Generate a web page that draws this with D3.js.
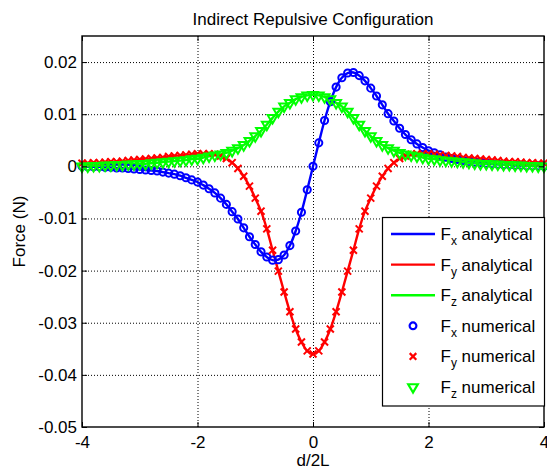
<!DOCTYPE html>
<html><head><meta charset="utf-8">
<script src="https://cdn.jsdelivr.net/npm/d3@7"></script>
<style>
body{margin:0;background:#fff}
svg{display:block}
text{font-family:"Liberation Sans",Arial,Helvetica,sans-serif;fill:#000}
</style>
</head><body>
<svg id="chart" width="547" height="473"></svg>
<script>
// ---- data ----
const xs = [-4,-3.9,-3.8,-3.7,-3.6,-3.5,-3.4,-3.3,-3.2,-3.1,
 -3,-2.9,-2.8,-2.7,-2.6,-2.5,-2.4,-2.3,-2.2,-2.1,
 -2,-1.9,-1.8,-1.7,-1.6,-1.5,-1.4,-1.3,-1.2,-1.1,
 -1,-0.9,-0.8,-0.7,-0.6,-0.5,-0.4,-0.3,-0.2,-0.1,
 0,
 0.1,0.2,0.3,0.4,0.5,0.6,0.7,0.8,0.9,1,
 1.1,1.2,1.3,1.4,1.5,1.6,1.7,1.8,1.9,2,
 2.1,2.2,2.3,2.4,2.5,2.6,2.7,2.8,2.9,3,
 3.1,3.2,3.3,3.4,3.5,3.6,3.7,3.8,3.9,4];

const fxValues = [0,-0.0001,-0.0001,-0.0001,-0.0002,-0.0002,-0.0003,-0.0003,-0.0004,-0.0005,
 -0.0006,-0.0007,-0.0008,-0.0009,-0.0011,-0.0013,-0.0015,-0.0018,-0.0022,-0.0026,
 -0.0030,-0.0036,-0.0043,-0.0051,-0.0061,-0.0073,-0.0087,-0.0101,-0.0118,-0.0135,
 -0.0150,-0.0164,-0.0174,-0.0180,-0.0179,-0.0170,-0.0152,-0.0124,-0.0088,-0.0045,
 0,
 0.0045,0.0088,0.0124,0.0152,0.0170,0.0179,0.0180,0.0174,0.0164,0.0150,
 0.0135,0.0118,0.0101,0.0087,0.0073,0.0061,0.0051,0.0043,0.0036,0.0030,
 0.0026,0.0022,0.0018,0.0015,0.0013,0.0011,0.0009,0.0008,0.0007,0.0006,
 0.0005,0.0004,0.0003,0.0003,0.0002,0.0002,0.0001,0.0001,0.0001,0];

const fyValues = [0.0006,0.0006,0.0007,0.0007,0.0008,0.0009,0.0009,0.0010,0.0011,0.0012,
 0.0013,0.0014,0.0015,0.0016,0.0017,0.0019,0.0020,0.0021,0.0022,0.0023,
 0.0024,0.0024,0.0024,0.0023,0.0020,0.0015,0.0007,-0.0004,-0.0019,-0.0038,
 -0.0061,-0.0086,-0.0120,-0.0161,-0.0201,-0.0241,-0.0279,-0.0312,-0.0337,-0.0354,
 -0.0360,
 -0.0354,-0.0337,-0.0312,-0.0279,-0.0241,-0.0201,-0.0161,-0.0120,-0.0086,-0.0061,
 -0.0038,-0.0019,-0.0004,0.0007,0.0015,0.0020,0.0023,0.0024,0.0024,0.0024,
 0.0023,0.0022,0.0021,0.0020,0.0019,0.0017,0.0016,0.0015,0.0014,0.0013,
 0.0012,0.0011,0.0010,0.0009,0.0009,0.0008,0.0007,0.0007,0.0006,0.0006];

const fzValues = [0,0,0.0001,0.0001,0.0002,0.0002,0.0003,0.0003,0.0004,0.0004,
 0.0005,0.0005,0.0006,0.0007,0.0008,0.0009,0.0010,0.0011,0.0012,0.0014,
 0.0015,0.0017,0.0019,0.0021,0.0023,0.0026,0.0030,0.0035,0.0041,0.0049,
 0.0058,0.0068,0.0080,0.0093,0.0105,0.0115,0.0122,0.0129,0.0133,0.0136,
 0.0137,
 0.0136,0.0133,0.0129,0.0122,0.0115,0.0105,0.0093,0.0080,0.0068,0.0058,
 0.0049,0.0041,0.0035,0.0030,0.0026,0.0023,0.0021,0.0019,0.0017,0.0015,
 0.0014,0.0012,0.0011,0.0010,0.0009,0.0008,0.0007,0.0006,0.0005,0.0005,
 0.0004,0.0004,0.0003,0.0003,0.0002,0.0002,0.0001,0.0001,0,0];

const xTicks = [-4,-2,0,2,4];
const xTickLabels = ["-4","-2","0","2","4"];
const yTicks = [0.02,0.01,0,-0.01,-0.02,-0.03,-0.04,-0.05];
const yTickLabels = ["0.02","0.01","0","-0.01","-0.02","-0.03","-0.04","-0.05"];
const seriesSubs = ["x","y","z"];
const seriesColors = ["#0000ff","#ff0000","#00ff00"];
const titleText = "Indirect Repulsive Configuration";
const xLabel = "d/2L";
const yLabel = "Force (N)";

// ---- layout ----
const svg = d3.select("#chart");
const L = 82, R = 544, T = 36, B = 427;
const x = d3.scaleLinear().domain([-4,4]).range([L,R]);
const y = d3.scaleLinear().domain([-0.05,0.025]).range([B,T]);
const FS = 17;

svg.append("rect").attr("width",547).attr("height",473).attr("fill","#fff");

// grid
const gridX = svg.append("g").attr("transform",`translate(0,${B})`)
  .call(d3.axisBottom(x).tickValues(xTicks.filter(v=>v>-4&&v<4)).tickSize(-(B-T)).tickFormat(""));
const gridY = svg.append("g").attr("transform",`translate(${L},0)`)
  .call(d3.axisLeft(y).tickValues(yTicks.filter(v=>v>-0.05&&v<0.025)).tickSize(-(R-L)).tickFormat(""));
[gridX,gridY].forEach(g=>{
  g.select(".domain").remove();
  g.selectAll("line").attr("stroke","#000").attr("stroke-width",1).attr("stroke-dasharray","1,2");
});

// series
const series = [fxValues, fyValues, fzValues];
const line = d3.line().x((d,i)=>x(xs[i])).y(d=>y(d)).curve(d3.curveCatmullRom);
const plot = svg.append("g");
series.forEach((vals,k)=>{
  plot.append("path").datum(vals).attr("d",line)
    .attr("fill","none").attr("stroke",seriesColors[k]).attr("stroke-width",2.4)
    .attr("stroke-linejoin","round");
});

const symbols = [
  d3.symbol().type(d3.symbolCircle).size(40),
  d3.symbol().type(d3.symbolTimes).size(34),
  d3.symbol().type(d3.symbolTriangle).size(42)
];
const rot = [0,0,180];
const sw = [2,2,2];
series.forEach((vals,k)=>{
  plot.append("g").selectAll("path").data(vals).join("path")
    .attr("d",symbols[k]())
    .attr("transform",(d,i)=>`translate(${x(xs[i])},${y(d)}) rotate(${rot[k]})`)
    .attr("fill","none").attr("stroke",seriesColors[k]).attr("stroke-width",sw[k]);
});

// axes with inward ticks
const axB = svg.append("g").attr("transform",`translate(0,${B})`)
  .call(d3.axisBottom(x).tickValues(xTicks).tickSizeInner(-5).tickSizeOuter(0).tickPadding(9)
    .tickFormat((d,i)=>xTickLabels[i]));
const axT = svg.append("g").attr("transform",`translate(0,${T})`)
  .call(d3.axisTop(x).tickValues(xTicks).tickSizeInner(-5).tickSizeOuter(0).tickFormat(""));
const axL = svg.append("g").attr("transform",`translate(${L},0)`)
  .call(d3.axisLeft(y).tickValues(yTicks).tickSizeInner(-5).tickSizeOuter(0).tickPadding(5)
    .tickFormat((d,i)=>yTickLabels[i]));
const axR = svg.append("g").attr("transform",`translate(${R},0)`)
  .call(d3.axisRight(y).tickValues(yTicks).tickSizeInner(-5).tickSizeOuter(0).tickFormat(""));
[axB,axT,axL,axR].forEach(g=>{
  g.select(".domain").remove();
  g.selectAll("line").attr("stroke","#000").attr("stroke-width",1);
  g.selectAll("text").attr("font-size",FS).attr("font-family",null).attr("fill","#000");
});
axB.selectAll("text").attr("dy","0.71em");

svg.append("rect").attr("x",L).attr("y",T).attr("width",R-L).attr("height",B-T)
  .attr("fill","none").attr("stroke","#000").attr("stroke-width",1.4);

// titles
svg.append("text").attr("x",(L+R)/2).attr("y",24.5).attr("text-anchor","middle")
  .attr("font-size",FS).text(titleText);
svg.append("text").attr("x",(L+R)/2).attr("y",466).attr("text-anchor","middle")
  .attr("font-size",FS).text(xLabel);
svg.append("text").attr("transform",`translate(25,${(T+B)/2}) rotate(-90)`)
  .attr("text-anchor","middle").attr("font-size",FS).text(yLabel);

// legend
const lg = svg.append("g");
lg.append("rect").attr("x",382.5).attr("y",217.5).attr("width",162).attr("height",188.5)
  .attr("fill","#fff").attr("stroke","#000").attr("stroke-width",1.2);
const rowY = d3.scaleLinear().domain([0,5]).range([234,387]);
const entries = [];
[0,1,2].forEach(k=>entries.push({k,kind:"line",label:"analytical"}));
[0,1,2].forEach(k=>entries.push({k,kind:"mark",label:"numerical"}));
const legSymbols = [
  d3.symbol().type(d3.symbolCircle).size(36),
  d3.symbol().type(d3.symbolTimes).size(30),
  d3.symbol().type(d3.symbolTriangle).size(40)
];
entries.forEach((e,i)=>{
  const yy = rowY(i);
  if(e.kind==="line"){
    lg.append("line").attr("x1",391).attr("x2",435).attr("y1",yy).attr("y2",yy)
      .attr("stroke",seriesColors[e.k]).attr("stroke-width",2.4);
  } else {
    lg.append("path").attr("d",legSymbols[e.k]())
      .attr("transform",`translate(413,${yy}) rotate(${rot[e.k]})`)
      .attr("fill","none").attr("stroke",seriesColors[e.k]).attr("stroke-width",2.2);
  }
  const t = lg.append("text").attr("x",440.5).attr("y",yy+6).attr("font-size",FS);
  t.append("tspan").text("F");
  t.append("tspan").attr("font-size",12).attr("dy",5).text(seriesSubs[e.k]);
  t.append("tspan").attr("dy",-5).text(" "+e.label);
});
</script>
</body></html>
